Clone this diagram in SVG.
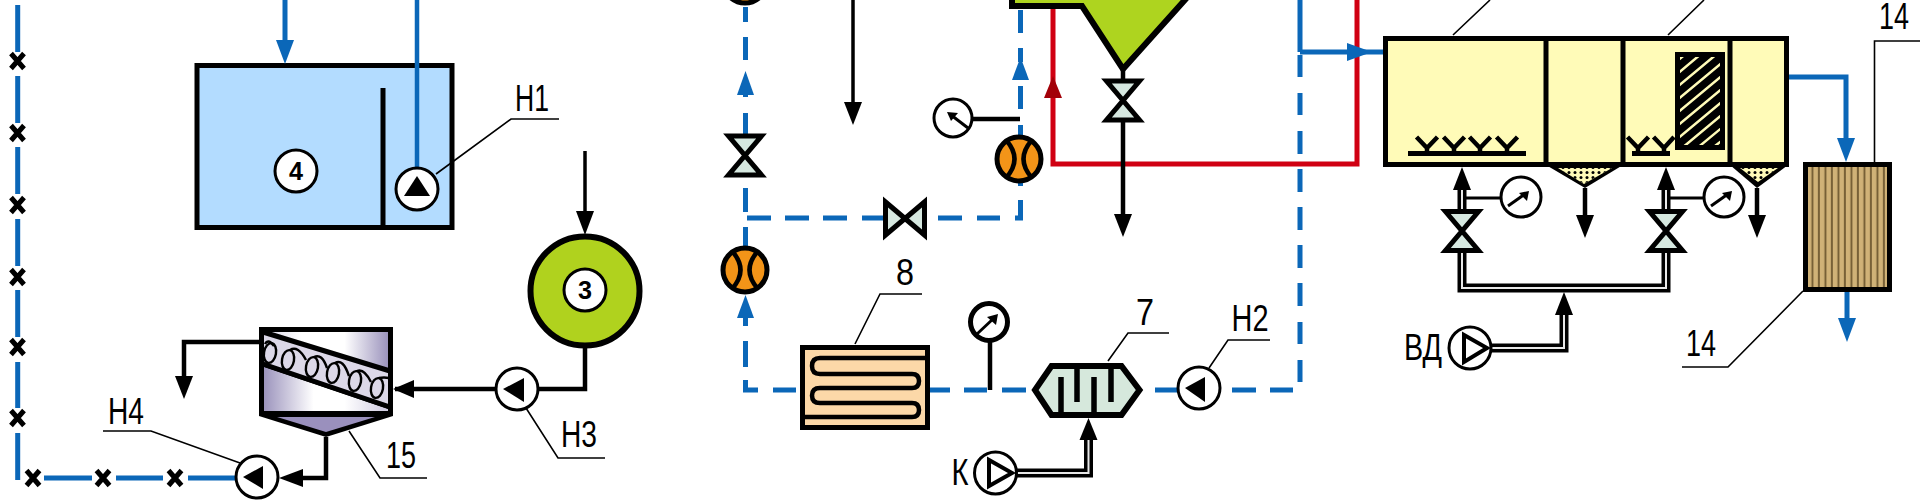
<svg xmlns="http://www.w3.org/2000/svg" width="1920" height="500" viewBox="0 0 1920 500">
<style>
.blue{fill:none;stroke:#0b67b8;stroke-width:5}
.red{fill:none;stroke:#d00012;stroke-width:5}
.blk{fill:none;stroke:#000;stroke-width:4.5}
.thin{fill:none;stroke:#000;stroke-width:1.6}
.dblo{fill:none;stroke:#000;stroke-width:9}
.dbli{fill:none;stroke:#e8e8e8;stroke-width:2}
.ah{fill:#000}
.ahb{fill:#0b67b8}
.lbl{font-family:"Liberation Sans",Arial,sans-serif;font-size:36px;fill:#000;text-anchor:middle}
.cir{fill:#fff;stroke:#000;stroke-width:3}
.num{font-family:"Liberation Sans",Arial,sans-serif;font-size:25px;font-weight:bold;fill:#000;text-anchor:middle}
.valve{fill:#d6e8e0;stroke:#000;stroke-width:5;stroke-linejoin:miter}
.x{fill:none;stroke:#000;stroke-width:5}
.tank{fill:#fffbb8;stroke:#000;stroke-width:5}
</style>
<defs>
<g id="orange"><circle r="22" fill="#f39418" stroke="#000" stroke-width="5"/><path d="M-13-19Q4 0-13 19M13-19Q-4 0 13 19" fill="none" stroke="#000" stroke-width="4.500"/></g>
<g id="xm"><path class="x" d="M-6.500-7.500L6.500 7.500M6.500-7.500L-6.500 7.500"/></g>
<path id="vv" class="valve" d="M-16.500-19.500H16.500L-16.500 19.500H16.500Z"/>
<linearGradient id="gU" x1="0" x2="1" y1="0" y2="0"><stop offset="0" stop-color="#d8d4e6"/><stop offset=".3" stop-color="#fff"/><stop offset=".65" stop-color="#fff"/><stop offset="1" stop-color="#9c94bd"/></linearGradient>
<linearGradient id="gL" x1="0" x2="1" y1="0" y2="0"><stop offset="0" stop-color="#9c94bd"/><stop offset=".4" stop-color="#fff"/><stop offset=".65" stop-color="#fff"/><stop offset="1" stop-color="#cfcae0"/></linearGradient>
<pattern id="dots" width="6" height="5" patternUnits="userSpaceOnUse"><circle cx="3" cy="2.500" r="1.500" fill="#000"/></pattern>
<pattern id="stripes" width="6.500" height="10" patternUnits="userSpaceOnUse"><rect width="6.500" height="10" fill="#d0b277"/><rect x="4.500" width="1.800" height="10" fill="#6e5830"/></pattern>
<clipPath id="hc"><rect x="1680" y="57" width="40" height="88"/></clipPath>
</defs>
<rect width="1920" height="500" fill="#fff"/>
<g id="tank4"><rect x="197" y="65.500" width="255" height="162" fill="#b3dcff" stroke="#000" stroke-width="5"/><path class="blk" d="M383 88V228" style="stroke-width:5"/><circle class="cir" cx="296" cy="171" r="21"/><text class="num" x="296" y="180" textLength="14" lengthAdjust="spacingAndGlyphs">4</text></g>
<g id="connectors">
<path class="blue" d="M17.700 5V52M17.700 76V123M17.700 147V194M17.700 219V266M17.700 290V337M17.700 362V408M17.700 433V480M44 478H92M116 478H163M188 478H236"/>
<path class="blue" d="M285 0V45"/><polygon class="ahb" points="276,40 294,40 285,64"/>
<path class="blue" d="M417 0V170" style="stroke-width:4.500"/>
<path class="blue" d="M745.500 7V22M745.500 37V60M745.500 85V97M745.500 113V135M745.500 188V212M745.500 227V250M745.500 318V326M745.500 341V367M745.500 380V390H758M773 390H796M930 390H950M964 390H987M1002 390H1026M1155 390H1177M1232 390H1256M1270 390H1293M1300 382V360M1300 344V322M1300 306V283M1300 268V245M1300 230V207M1300 192V169M1300 154V131M1300 115V93M1300 77V55M1300 52V0M1300 52H1360"/>
<path class="blue" d="M747 218H771M785 218H809M823 218H847M862 218H885M938 218H962M977 218H1000M1015 218H1020.500V200M1020.500 186V182M1020.500 135V125M1020.500 109V86M1020.500 62V48M1020.500 33V10"/>
<polygon class="ahb" points="745.500,71 754,95 737,95"/><polygon class="ahb" points="745.500,295 754,318 737,318"/><polygon class="ahb" points="1020.500,57 1029,80 1012,80"/>
<path class="red" d="M1053 8V164H1357V0"/><polygon points="1053,76 1062,98 1044,98" fill="#a30008"/>
<polygon class="ahb" points="1347,43 1347,61 1372,52"/><path class="blue" d="M1360 52H1384"/>
<path class="blue" d="M1789 77H1846V140"/><polygon class="ahb" points="1837,138 1855,138 1846,162"/>
<path class="blue" d="M1847 292V320"/><polygon class="ahb" points="1838,318 1856,318 1847,342"/>
<path class="blk" d="M853 0V105" style="stroke-width:3.500"/><polygon class="ah" points="844,102 862,102 853,125"/>
<path class="blk" d="M1123 66V216"/><polygon class="ah" points="1114,214 1132,214 1123,237"/>
<path class="blk" d="M585 151V214" style="stroke-width:3.500"/><polygon class="ah" points="576,211 594,211 585,235"/>
<path class="blk" d="M585 348V389H395"/><polygon class="ah" points="393,389 414,380 414,398"/>
<path class="blk" d="M259 342H184V378"/><polygon class="ah" points="175,376 193,376 184,399"/>
<path class="blk" d="M326 437V478H290"/><polygon class="ah" points="279,478 303,469 303,487"/>
<path class="blk" d="M973 119H1020"/>
<path class="blk" d="M990 341V390"/>
<path class="blk" d="M1585 188V218"/><polygon class="ah" points="1576,215 1594,215 1585,238"/>
<path class="blk" d="M1757 188V218"/><polygon class="ah" points="1748,215 1766,215 1757,238"/>
<path class="blk" d="M1462 198H1501M1666 198H1704" style="stroke-width:3"/>
<path class="dblo" d="M1017 473H1088.500V438"/><path class="dbli" d="M1017 473H1088.500V438"/><polygon class="ah" points="1088.500,418 1097.500,440 1079.500,440"/>
<path class="dblo" d="M1462 188V212M1666 188V212"/><path class="dbli" d="M1462 188V212M1666 188V212"/>
<path class="dblo" d="M1462 250V288H1666V250"/><path class="dbli" d="M1462 250V288H1666V250"/>
<path class="dblo" d="M1490 348H1564V314"/><path class="dbli" d="M1490 348H1564V314"/>
<polygon class="ah" points="1462,167 1471,190 1453,190"/><polygon class="ah" points="1666,167 1675,190 1657,190"/><polygon class="ah" points="1564,292 1573,315 1555,315"/>
<path class="thin" d="M436 174L511 119H559M526 408L558 458H605M349 431L380 478H427M103 431H151L240 463M855 344L880 294H922M1108 361L1128 333H1169M1209 368L1228 340H1270M1453 35L1490 0M1668 35L1704 0M1874.500 162V41H1920M1803 291L1728 367H1682"/>
</g>
<g id="pumpN1"><circle class="cir" cx="417" cy="189" r="21"/><polygon class="ah" points="417,176 430,196 404,196"/><text class="lbl" x="532" y="111" textLength="34" lengthAdjust="spacingAndGlyphs">Н1</text></g>
<g id="tank3"><circle cx="585" cy="291" r="54.500" fill="#b0d21e" stroke="#000" stroke-width="6"/><circle class="cir" cx="585" cy="290" r="21"/><text class="num" x="585" y="299" textLength="14" lengthAdjust="spacingAndGlyphs">3</text></g>
<g id="pumpN3"><circle class="cir" cx="517" cy="389" r="21"/><polygon class="ah" points="503,389 524,378 524,402"/><text class="lbl" x="579" y="447" textLength="36" lengthAdjust="spacingAndGlyphs">Н3</text></g>
<g id="pumpN4"><circle class="cir" cx="257" cy="477" r="21"/><polygon class="ah" points="243,477 263,466 263,489"/><text class="lbl" x="126" y="424" textLength="36" lengthAdjust="spacingAndGlyphs">Н4</text></g>
<g id="unit15">
<polygon points="259,327 393,327 393,416 326,437 259,416" fill="#000"/>
<polygon points="264,332 388,332 388,372" fill="url(#gU)"/>
<polygon points="264,332 388,372 388,406 264,365" fill="#dcd8e8"/>
<polygon points="264,367 388,409 388,411 264,411" fill="url(#gL)"/>
<polygon points="277,417 375,417 326,432" fill="#9a90bd"/>
<path d="M263 332L390 371M263 364L390 407" fill="none" stroke="#000" stroke-width="5"/>
<g fill="none" stroke="#000" stroke-width="2.400"><ellipse cx="270" cy="353" rx="6" ry="10" transform="rotate(10 270 353)"/><ellipse cx="288" cy="360" rx="6" ry="10" transform="rotate(10 288 360)"/><ellipse cx="312" cy="367" rx="6" ry="10" transform="rotate(10 312 367)"/><ellipse cx="333" cy="373" rx="6" ry="10" transform="rotate(10 333 373)"/><ellipse cx="355" cy="381" rx="6" ry="10" transform="rotate(10 355 381)"/><ellipse cx="377" cy="388" rx="6" ry="10" transform="rotate(10 377 388)"/><path d="M265 344Q268 338 274 346M290 350Q298 345 306 360M314 357Q322 353 327 368M335 363Q343 358 349 376M357 371Q364 368 371 382M379 378Q384 377 389 378"/></g>
<text class="lbl" x="401" y="468" textLength="30" lengthAdjust="spacingAndGlyphs">15</text></g>
<g id="gaugeA"><circle class="cir" cx="953" cy="118" r="19" style="stroke-width:3"/><path d="M968 128L951 115" stroke="#000" stroke-width="3"/><polygon class="ah" points="947,112 958,113 951,121"/></g>
<g id="pump1"><use href="#orange" x="1019" y="159"/></g>
<g id="pump2"><use href="#orange" x="745" y="270"/></g>
<g id="pump3"><use href="#orange" x="745" y="-19"/></g>
<g id="valve1"><use href="#vv" x="745" y="155.500"/></g>
<g id="valve2"><use href="#vv" transform="translate(905 218.500) rotate(90)"/></g>
<g id="valve3"><use href="#vv" x="1123" y="100.500"/></g>
<g id="hopper"><path d="M1012-8V6H1082L1123 69L1192-8Z" fill="#aed41f" stroke="#000" stroke-width="6"/></g>
<g id="hx8"><rect x="802.500" y="347.500" width="125" height="80" fill="#fcd8a8" stroke="#000" stroke-width="5"/><path d="M928 358H820Q812 358 812 366T820 374H912Q919 374 919 381T912 388H820Q812 388 812 395.500T820 403H912Q919 403 919 410T912 417H802" fill="none" stroke="#000" stroke-width="4.500"/><text class="lbl" x="905" y="285" textLength="18" lengthAdjust="spacingAndGlyphs">8</text></g>
<g id="gaugeB"><circle cx="989" cy="322" r="18.500" fill="#fff" stroke="#000" stroke-width="5"/><path d="M977 334L994 318" stroke="#000" stroke-width="3"/><polygon class="ah" points="998,314 996,325 987,317"/></g>
<g id="ex7"><polygon points="1035,390 1051.500,366 1121.500,366 1139.500,390 1121.500,415 1051.500,415" fill="#d6e8dc" stroke="#000" stroke-width="6"/><path d="M1061 377V416M1077 365V402M1094 377V416M1111 365V402" stroke="#000" stroke-width="5.500" fill="none"/><text class="lbl" x="1145" y="325" textLength="18" lengthAdjust="spacingAndGlyphs">7</text></g>
<g id="pumpN2"><circle class="cir" cx="1199" cy="388" r="21"/><polygon class="ah" points="1185,388 1205,377 1205,402"/><text class="lbl" x="1250" y="331" textLength="37" lengthAdjust="spacingAndGlyphs">Н2</text></g>
<g id="pumpK"><circle class="cir" cx="995.500" cy="473" r="21"/><polygon points="989,460 989,486 1012,473" fill="#fff" stroke="#000" stroke-width="4"/><text class="lbl" x="960" y="485" textLength="17" lengthAdjust="spacingAndGlyphs">К</text></g>
<g id="reactor">
<polygon points="1546,165 1585,188 1623,165" fill="#000"/><polygon points="1558,168 1612,168 1584,184" fill="#fffbb8"/><polygon points="1558,168 1612,168 1584,184" fill="url(#dots)"/>
<polygon points="1730,165 1757,188 1788,165" fill="#000"/><polygon points="1740,168 1778,168 1758,182" fill="#fffbb8"/><polygon points="1740,168 1778,168 1758,182" fill="url(#dots)"/>
<rect class="tank" x="1385.500" y="38.500" width="401" height="126"/>
<path d="M1546 38V165M1623 38V165M1730 38V165" stroke="#000" stroke-width="5" fill="none"/>
<rect x="1675" y="52" width="50" height="98" fill="#000"/>
<g clip-path="url(#hc)" stroke="#fffbb8" stroke-width="2.500"><path d="M1670 67L1700 42M1670 80L1720 38M1670 93L1730 43M1670 106L1730 56M1670 119L1730 69M1670 132L1730 82M1670 145L1730 95M1670 158L1730 108M1690 154L1730 121M1700 158L1730 134"/></g>
<g fill="none" stroke="#000" stroke-width="4.500"><path d="M1416.500 137L1427 148L1437.500 137M1443.500 137L1454 148L1464.500 137M1469.500 137L1480 148L1490.500 137M1496.500 137L1507 148L1517.500 137M1427 148V153M1454 148V153M1480 148V153M1507 148V153M1627.500 137L1638 148L1648.500 137M1653.500 137L1664 148L1674 137M1638 148V153M1664 148V153"/></g>
<path d="M1408 153.500H1526M1632 153.500H1670" stroke="#000" stroke-width="5"/>
</g>
<g id="gaugeC"><circle class="cir" cx="1521" cy="197" r="20"/><path d="M1508 206L1525 194" stroke="#000" stroke-width="3"/><polygon class="ah" points="1529,191 1527,201 1519,193"/></g>
<g id="gaugeD"><circle class="cir" cx="1724" cy="197" r="20"/><path d="M1711 206L1728 194" stroke="#000" stroke-width="3"/><polygon class="ah" points="1732,191 1730,201 1722,193"/></g>
<g id="valve4"><use href="#vv" x="1462" y="231"/></g>
<g id="valve5"><use href="#vv" x="1666" y="231"/></g>
<g id="pumpVD"><circle class="cir" cx="1470" cy="348" r="21"/><polygon points="1464,335 1464,362 1487,348" fill="#fff" stroke="#000" stroke-width="4"/><text class="lbl" x="1423" y="360" textLength="38" lengthAdjust="spacingAndGlyphs">ВД</text></g>
<g id="filter14"><rect x="1805.500" y="164.500" width="84" height="125" fill="url(#stripes)" stroke="#000" stroke-width="5"/><text class="lbl" x="1894" y="29" textLength="30" lengthAdjust="spacingAndGlyphs">14</text><text class="lbl" x="1701" y="356" textLength="30" lengthAdjust="spacingAndGlyphs">14</text></g>
<g id="xmarks"><use href="#xm" x="17.500" y="61"/><use href="#xm" x="17.500" y="133"/><use href="#xm" x="17.500" y="205"/><use href="#xm" x="17.500" y="277"/><use href="#xm" x="17.500" y="347"/><use href="#xm" x="17.500" y="418"/><use href="#xm" x="33" y="478"/><use href="#xm" x="103" y="478"/><use href="#xm" x="175" y="478"/></g>
</svg>
